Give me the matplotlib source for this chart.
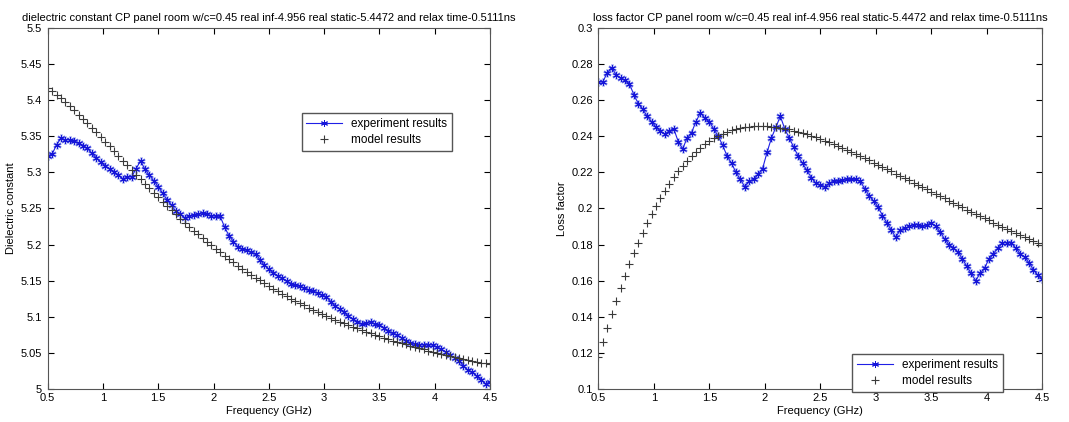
import matplotlib
matplotlib.use("Agg")
import matplotlib.pyplot as plt
from matplotlib.ticker import FuncFormatter

plt.rcParams['font.family'] = ['Liberation Sans', 'DejaVu Sans']
plt.rcParams['font.size'] = 8

freq = [round(0.5 + 0.04 * i, 2) for i in range(101)]

# measured dielectric constant
exp_dc = [5.323, 5.325, 5.338, 5.347, 5.345, 5.345, 5.343, 5.340, 5.337, 5.333,
          5.326, 5.320, 5.314, 5.309, 5.305, 5.300, 5.296, 5.291, 5.293, 5.294,
          5.305, 5.316, 5.304, 5.296, 5.288, 5.280, 5.271, 5.262, 5.254, 5.246,
          5.242, 5.237, 5.239, 5.241, 5.242, 5.244, 5.242, 5.240, 5.239, 5.239,
          5.224, 5.212, 5.204, 5.197, 5.194, 5.192, 5.189, 5.187, 5.179, 5.171,
          5.166, 5.161, 5.157, 5.153, 5.149, 5.146, 5.144, 5.142, 5.140, 5.137,
          5.135, 5.133, 5.130, 5.128, 5.121, 5.115, 5.111, 5.106, 5.101, 5.097,
          5.093, 5.090, 5.092, 5.093, 5.090, 5.089, 5.085, 5.080, 5.077, 5.075,
          5.071, 5.067, 5.064, 5.062, 5.061, 5.061, 5.061, 5.061, 5.058, 5.055,
          5.051, 5.047, 5.043, 5.039, 5.032, 5.026, 5.023, 5.018, 5.013, 5.007,
          5.010]

# model dielectric constant
mod_dc = [5.4171, 5.4124, 5.4075, 5.4024, 5.3970, 5.3915, 5.3857, 5.3798, 5.3738, 5.3677,
          5.3614, 5.3551, 5.3487, 5.3422, 5.3357, 5.3292, 5.3227, 5.3162, 5.3097, 5.3032,
          5.2968, 5.2904, 5.2840, 5.2777, 5.2715, 5.2654, 5.2593, 5.2533, 5.2474, 5.2416,
          5.2359, 5.2303, 5.2248, 5.2193, 5.2140, 5.2088, 5.2037, 5.1987, 5.1938, 5.1890,
          5.1843, 5.1796, 5.1751, 5.1707, 5.1664, 5.1622, 5.1581, 5.1541, 5.1502, 5.1463,
          5.1426, 5.1389, 5.1354, 5.1319, 5.1285, 5.1251, 5.1219, 5.1187, 5.1156, 5.1126,
          5.1097, 5.1068, 5.1040, 5.1012, 5.0985, 5.0959, 5.0934, 5.0909, 5.0885, 5.0861,
          5.0838, 5.0815, 5.0793, 5.0771, 5.0750, 5.0730, 5.0709, 5.0690, 5.0671, 5.0652,
          5.0633, 5.0616, 5.0598, 5.0581, 5.0564, 5.0548, 5.0532, 5.0516, 5.0501, 5.0486,
          5.0471, 5.0457, 5.0443, 5.0429, 5.0416, 5.0403, 5.0390, 5.0377, 5.0365, 5.0353,
          5.0341]

# measured loss factor
exp_lf = [0.270, 0.270, 0.275, 0.278, 0.274, 0.272, 0.271, 0.269, 0.263, 0.258,
          0.255, 0.251, 0.248, 0.245, 0.243, 0.241, 0.243, 0.244, 0.237, 0.233,
          0.239, 0.242, 0.248, 0.253, 0.250, 0.248, 0.244, 0.240, 0.235, 0.229,
          0.225, 0.220, 0.216, 0.212, 0.215, 0.216, 0.219, 0.222, 0.231, 0.239,
          0.245, 0.251, 0.244, 0.239, 0.234, 0.229, 0.225, 0.221, 0.217, 0.214,
          0.213, 0.212, 0.214, 0.215, 0.215, 0.2155, 0.216, 0.216, 0.216, 0.215,
          0.211, 0.207, 0.204, 0.201, 0.196, 0.192, 0.188, 0.184, 0.188, 0.189,
          0.190, 0.191, 0.191, 0.190, 0.191, 0.192, 0.190, 0.187, 0.183, 0.180,
          0.178, 0.176, 0.172, 0.168, 0.164, 0.160, 0.164, 0.167, 0.172, 0.175,
          0.178, 0.181, 0.181, 0.181, 0.178, 0.175, 0.173, 0.170, 0.166, 0.163,
          0.161]

# model loss factor
mod_lf = [0.1178, 0.1260, 0.1339, 0.1415, 0.1488, 0.1558, 0.1625, 0.1690, 0.1751, 0.1810,
          0.1865, 0.1917, 0.1967, 0.2014, 0.2057, 0.2098, 0.2137, 0.2172, 0.2205, 0.2236,
          0.2264, 0.2290, 0.2314, 0.2335, 0.2354, 0.2372, 0.2387, 0.2401, 0.2413, 0.2423,
          0.2432, 0.2439, 0.2445, 0.2450, 0.2453, 0.2455, 0.2456, 0.2456, 0.2455, 0.2453,
          0.2450, 0.2446, 0.2442, 0.2437, 0.2431, 0.2424, 0.2417, 0.2410, 0.2402, 0.2393,
          0.2384, 0.2375, 0.2365, 0.2355, 0.2345, 0.2334, 0.2323, 0.2312, 0.2301, 0.2289,
          0.2277, 0.2266, 0.2254, 0.2242, 0.2229, 0.2217, 0.2205, 0.2192, 0.2180, 0.2167,
          0.2155, 0.2142, 0.2130, 0.2117, 0.2105, 0.2092, 0.2080, 0.2067, 0.2055, 0.2042,
          0.2030, 0.2018, 0.2005, 0.1993, 0.1981, 0.1969, 0.1957, 0.1945, 0.1933, 0.1921,
          0.1909, 0.1898, 0.1886, 0.1875, 0.1863, 0.1852, 0.1840, 0.1829, 0.1818, 0.1807,
          0.1796]

title_dc = "dielectric constant CP panel room w/c=0.45 real inf-4.956 real static-5.4472 and relax time-0.5111ns"
title_lf = "loss factor CP panel room w/c=0.45 real inf-4.956 real static-5.4472 and relax time-0.5111ns"

fmt = FuncFormatter(lambda v, p: "%g" % round(v, 4))

fig = plt.figure(figsize=(10.69, 4.22), dpi=100)
ax1 = fig.add_axes([0.0446, 0.0782, 0.4138, 0.856])
ax2 = fig.add_axes([0.5597, 0.0782, 0.4153, 0.856])


def style(ax):
    ax.tick_params(direction='in', length=4, top=True, right=True, labelsize=8)
    ax.tick_params(axis='x', pad=3)
    ax.tick_params(axis='y', pad=4)
    for s in ax.spines.values():
        s.set_color('#555555')
        s.set_linewidth(0.8)
    ax.yaxis.set_major_formatter(fmt)
    ax.xaxis.set_major_formatter(fmt)
    ax.set_xlim(0.5, 4.5)
    ax.set_xticks([0.5, 1, 1.5, 2, 2.5, 3, 3.5, 4, 4.5])


for ax, e, m in [(ax1, exp_dc, mod_dc), (ax2, exp_lf, mod_lf)]:
    # soft halo under the stars, like the original's blurry markers
    ax.plot(freq, e, ls='none', marker=(6, 2, 0), ms=6, mec='#b8c0f2', mew=1.6)
    ax.plot(freq, e, '-', color='#1f1fe6', lw=0.8, marker=(6, 2, 0), ms=5,
            mec='#1515d8', mew=0.7, label='experiment results')
    ax.plot(freq, m, '+', color='#3a3a3a', ms=6, mew=0.8, ls='none', label='model results')
    style(ax)

ax1.set_ylim(5, 5.5)
ax1.set_yticks([5, 5.05, 5.1, 5.15, 5.2, 5.25, 5.3, 5.35, 5.4, 5.45, 5.5])
ax1.set_xlabel("Frequency (GHz)", labelpad=2)
ax1.set_ylabel("Dielectric constant", labelpad=3)
ax1.set_title(title_dc, fontsize=8, pad=5)
h, l = ax1.get_legend_handles_labels()
ax1.legend(h, l, loc='upper left', bbox_to_anchor=(0.561, 0.78), fancybox=False,
           edgecolor='#555555', framealpha=1, fontsize=8.5, handlelength=3,
           borderpad=0.4, labelspacing=0.35)

ax2.set_ylim(0.1, 0.3)
ax2.set_yticks([0.1, 0.12, 0.14, 0.16, 0.18, 0.2, 0.22, 0.24, 0.26, 0.28, 0.3])
ax2.set_xlabel("Frequency (GHz)", labelpad=2)
ax2.set_ylabel("Loss factor", labelpad=3)
ax2.set_title(title_lf, fontsize=8, pad=5)
h, l = ax2.get_legend_handles_labels()
ax2.legend(h, l, loc='upper left', bbox_to_anchor=(0.559, 0.113), fancybox=False,
           edgecolor='#555555', framealpha=1, fontsize=8.5, handlelength=3,
           borderpad=0.4, labelspacing=0.35)

fig.savefig("out.png", dpi=100)
